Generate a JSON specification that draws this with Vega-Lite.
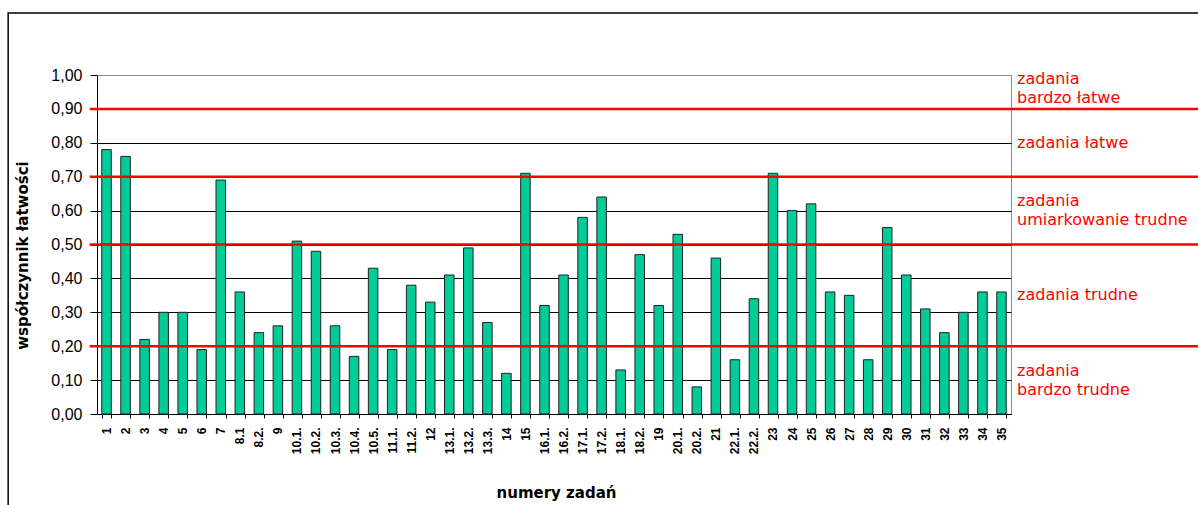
{
  "$schema": "https://vega.github.io/schema/vega-lite/v6.json",
  "width": 914,
  "height": 339,
  "autosize": {"type": "none"},
  "padding": {"left": 97, "top": 75, "right": 187, "bottom": 91},
  "background": "white",
  "config": {"view": {"stroke": "#8c8c8c", "strokeWidth": 1}, "font": "Liberation Sans"},
  "datasets": {
    "tasks": [
      {"zadanie": "1", "wsp": 0.78}, {"zadanie": "2", "wsp": 0.76}, {"zadanie": "3", "wsp": 0.22},
      {"zadanie": "4", "wsp": 0.30}, {"zadanie": "5", "wsp": 0.30}, {"zadanie": "6", "wsp": 0.19},
      {"zadanie": "7", "wsp": 0.69}, {"zadanie": "8.1", "wsp": 0.36}, {"zadanie": "8.2.", "wsp": 0.24},
      {"zadanie": "9", "wsp": 0.26}, {"zadanie": "10.1.", "wsp": 0.51}, {"zadanie": "10.2.", "wsp": 0.48},
      {"zadanie": "10.3.", "wsp": 0.26}, {"zadanie": "10.4.", "wsp": 0.17}, {"zadanie": "10.5.", "wsp": 0.43},
      {"zadanie": "11.1.", "wsp": 0.19}, {"zadanie": "11.2.", "wsp": 0.38}, {"zadanie": "12", "wsp": 0.33},
      {"zadanie": "13.1.", "wsp": 0.41}, {"zadanie": "13.2.", "wsp": 0.49}, {"zadanie": "13.3.", "wsp": 0.27},
      {"zadanie": "14", "wsp": 0.12}, {"zadanie": "15", "wsp": 0.71}, {"zadanie": "16.1.", "wsp": 0.32},
      {"zadanie": "16.2.", "wsp": 0.41}, {"zadanie": "17.1.", "wsp": 0.58}, {"zadanie": "17.2.", "wsp": 0.64},
      {"zadanie": "18.1.", "wsp": 0.13}, {"zadanie": "18.2.", "wsp": 0.47}, {"zadanie": "19", "wsp": 0.32},
      {"zadanie": "20.1.", "wsp": 0.53}, {"zadanie": "20.2.", "wsp": 0.08}, {"zadanie": "21", "wsp": 0.46},
      {"zadanie": "22.1.", "wsp": 0.16}, {"zadanie": "22.2.", "wsp": 0.34}, {"zadanie": "23", "wsp": 0.71},
      {"zadanie": "24", "wsp": 0.60}, {"zadanie": "25", "wsp": 0.62}, {"zadanie": "26", "wsp": 0.36},
      {"zadanie": "27", "wsp": 0.35}, {"zadanie": "28", "wsp": 0.16}, {"zadanie": "29", "wsp": 0.55},
      {"zadanie": "30", "wsp": 0.41}, {"zadanie": "31", "wsp": 0.31}, {"zadanie": "32", "wsp": 0.24},
      {"zadanie": "33", "wsp": 0.30}, {"zadanie": "34", "wsp": 0.36}, {"zadanie": "35", "wsp": 0.36}
    ],
    "bounds": [{"granica": 0.2}, {"granica": 0.5}, {"granica": 0.7}, {"granica": 0.9}],
    "classes": [
      {"nazwa": ["zadania", "bardzo łatwe"], "srodek": 0.96},
      {"nazwa": ["zadania łatwe"], "srodek": 0.8},
      {"nazwa": ["zadania", "umiarkowanie trudne"], "srodek": 0.6},
      {"nazwa": ["zadania trudne"], "srodek": 0.35},
      {"nazwa": ["zadania", "bardzo trudne"], "srodek": 0.1}
    ],
    "frame": [{"kind": "frame"}]
  },
  "layer": [
    {
      "data": {"name": "tasks"},
      "mark": {"type": "bar", "fill": "#00CC99", "stroke": "#222222", "strokeWidth": 1},
      "encoding": {
        "x": {
          "field": "zadanie", "type": "nominal", "sort": null,
          "scale": {"paddingInner": 0.5, "paddingOuter": 0.25},
          "axis": {
            "title": "numery zadań", "labelAngle": -90, "labelFontWeight": "bold", "labelFontSize": 12,
            "labelColor": "black", "tickBand": "extent", "tickColor": "black", "domainColor": "black",
            "tickSize": 4, "labelPadding": 9, "labelOverlap": false,
            "titleFont": "DejaVu Sans", "titleFontSize": 15, "titleFontWeight": "bold", "titleColor": "black",
            "titleX": 459, "titleY": 78, "titleBaseline": "middle", "titleAlign": "center"
          }
        },
        "y": {
          "field": "wsp", "type": "quantitative",
          "scale": {"domain": [0, 1], "nice": false},
          "axis": {
            "title": "współczynnik łatwości",
            "values": [0, 0.1, 0.2, 0.3, 0.4, 0.5, 0.6, 0.7, 0.8, 0.9, 1],
            "tickCount": 11,
            "labelExpr": "replace(format(datum.value, '.2f'), '.', ',')",
            "labelOverlap": false,
            "grid": true,
            "gridColor": {"condition": {"test": "datum.value >= 1", "value": "#8c8c8c"}, "value": "black"},
            "gridWidth": 1, "domainColor": "black", "tickColor": "black", "tickSize": 7,
            "labelPadding": 8, "labelFontSize": 16, "labelColor": "black",
            "titleFont": "DejaVu Sans", "titleFontSize": 15, "titleFontWeight": "bold", "titleColor": "black",
            "titleX": -75, "titleY": 180, "titleAngle": -90, "titleBaseline": "middle", "titleAlign": "center"
          }
        }
      }
    },
    {
      "data": {"name": "frame"},
      "mark": {"type": "rect", "filled": false, "stroke": "black", "strokeWidth": 1.5},
      "encoding": {
        "x": {"datum": -0.0972, "type": "quantitative", "scale": {"domain": [0, 1], "nice": false}, "axis": null},
        "x2": {"datum": 1.4},
        "y": {"datum": 1.183, "type": "quantitative", "scale": {"domain": [0, 1], "nice": false}},
        "y2": {"datum": -1}
      }
    },
    {
      "data": {"name": "bounds"},
      "mark": {"type": "rule", "color": "#FF0000", "strokeWidth": 2.5},
      "encoding": {
        "x": {"datum": -0.008, "type": "quantitative", "scale": {"domain": [0, 1], "nice": false}, "axis": null},
        "x2": {"datum": 1.21},
        "y": {"field": "granica", "type": "quantitative", "scale": {"domain": [0, 1], "nice": false}}
      }
    },
    {
      "data": {"name": "classes"},
      "transform": [{"filter": "length(datum.nazwa) == 1"}],
      "mark": {"type": "text", "align": "left", "baseline": "middle", "font": "DejaVu Sans", "fontSize": 16, "color": "#FF0000", "lineHeight": 19},
      "encoding": {
        "x": {"datum": 1.0066, "type": "quantitative", "scale": {"domain": [0, 1], "nice": false}, "axis": null},
        "y": {"field": "srodek", "type": "quantitative", "scale": {"domain": [0, 1], "nice": false}},
        "text": {"field": "nazwa"}
      }
    },
    {
      "data": {"name": "classes"},
      "transform": [{"filter": "length(datum.nazwa) > 1"}],
      "mark": {"type": "text", "align": "left", "baseline": "middle", "dy": -9.5, "font": "DejaVu Sans", "fontSize": 16, "color": "#FF0000", "lineHeight": 19},
      "encoding": {
        "x": {"datum": 1.0066, "type": "quantitative", "scale": {"domain": [0, 1], "nice": false}, "axis": null},
        "y": {"field": "srodek", "type": "quantitative", "scale": {"domain": [0, 1], "nice": false}},
        "text": {"field": "nazwa"}
      }
    }
  ],
  "resolve": {"scale": {"x": "independent"}, "axis": {"x": "independent"}}
}
